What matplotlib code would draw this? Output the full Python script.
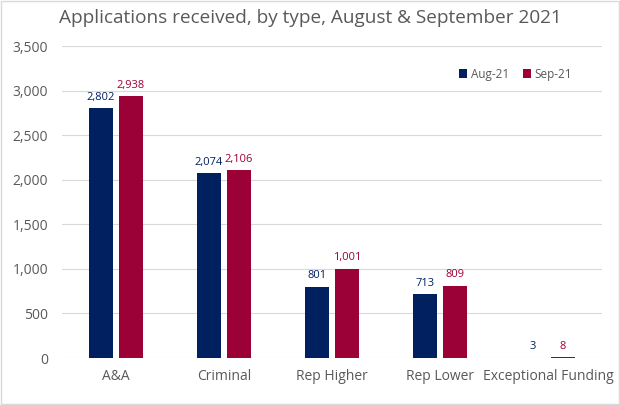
import numpy as np
import matplotlib.pyplot as plt
from matplotlib.patches import Rectangle

plt.rcParams['font.family'] = ['Open Sans', 'DejaVu Sans']

categories = ["A&A", "Criminal", "Rep Higher", "Rep Lower", "Exceptional Funding"]
aug_21 = [2802, 2074, 801, 713, 3]
sep_21 = [2938, 2106, 1001, 809, 8]

navy = "#002060"
crimson = "#9B0037"
grey = "#595959"

fig = plt.figure(figsize=(6.2, 4.05), dpi=100)
ax = fig.add_axes([0.100, 0.116, 0.871, 0.770])

x = np.arange(len(categories))
w = 0.222
off = 0.139
b1 = ax.bar(x - off, aug_21, w, color=navy, label="Aug-21", zorder=3)
b2 = ax.bar(x + off, sep_21, w, color=crimson, label="Sep-21", zorder=3)

# data labels
for rect, v in zip(b1, aug_21):
    ax.annotate(f"{v:,}", (rect.get_x() + rect.get_width() / 2, v),
                xytext=(0, 4), textcoords="offset points",
                ha="center", va="bottom", fontsize=8, color=navy)
for rect, v in zip(b2, sep_21):
    ax.annotate(f"{v:,}", (rect.get_x() + rect.get_width() / 2, v),
                xytext=(0, 4), textcoords="offset points",
                ha="center", va="bottom", fontsize=8, color=crimson)

ax.set_xlim(-0.5, len(categories) - 0.5)
ax.set_ylim(0, 3500)
ax.set_yticks(np.arange(0, 3501, 500))
ax.set_yticklabels([f"{t:,}" for t in range(0, 3501, 500)])
ax.set_xticks(x)
ax.set_xticklabels(categories)
ax.tick_params(axis="both", length=0, labelsize=10, colors=grey)
ax.tick_params(axis="x", pad=8)
ax.tick_params(axis="y", pad=10)
ax.grid(axis="y", color="#D9D9D9", linewidth=0.8, zorder=0)
for s in ax.spines.values():
    s.set_visible(False)

ax.legend(loc="upper right", bbox_to_anchor=(0.965, 0.965), ncol=2, frameon=False,
          fontsize=8.5, labelcolor=grey, handlelength=0.7, handleheight=0.7,
          columnspacing=1.2, handletextpad=0.3)

fig.text(0.5, 0.955, "Applications received, by type, August & September 2021",
         ha="center", va="center", fontsize=13.7, color=grey)

fig.patches.append(Rectangle((0.002, 0.002), 0.996, 0.996, transform=fig.transFigure,
                             fill=False, edgecolor="#D9D9D9", linewidth=1))

fig.savefig("out.png", dpi=100)
